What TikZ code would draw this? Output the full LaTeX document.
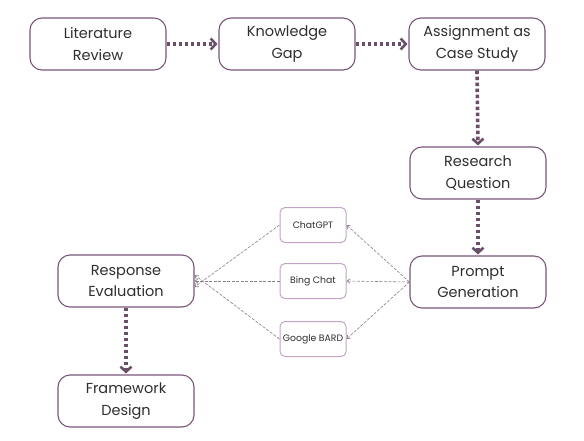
\documentclass[tikz,border=0pt]{standalone}
\usepackage{fontspec}
\setmainfont{Poppins}
\usetikzlibrary{arrows.meta}
\definecolor{boxc}{HTML}{7A5579}
\definecolor{arrc}{HTML}{6A4F68}
\definecolor{smallc}{HTML}{C3A3C6}
\definecolor{txt}{HTML}{2E2E2E}
\definecolor{thin}{HTML}{8A8088}
\begin{document}
\begin{tikzpicture}[x=1pt,y=-1pt,
  bigbox/.style={draw=boxc, line width=1.1pt, rounded corners=12pt, minimum width=136pt, minimum height=52pt, align=center, font=\fontsize{14.5}{21.5}\selectfont, text=txt, inner sep=0pt},
  smallbox/.style={draw=smallc, line width=1pt, rounded corners=5pt, minimum width=66pt, minimum height=35pt, align=center, font=\fontsize{9.3}{11}\selectfont, text=txt, inner sep=0pt},
  thick arrow/.style={draw=arrc, line width=3.6pt, dash pattern=on 3.6pt off 2.4pt, -{Straight Barb[length=5pt,width=11pt,line width=2.6pt]}, shorten >=1pt},
  thin arrow/.style={draw=thin, line width=0.6pt, dash pattern=on 3pt off 1.5pt, -{Straight Barb[length=3pt,width=4.5pt,line width=0.7pt]}}
]
\useasboundingbox (0,0) rectangle (584,440);
\node[bigbox] (lit) at (98,44) {Literature\\Review};
\node[bigbox] (gap) at (287,44) {Knowledge\\Gap};
\node[bigbox] (case) at (477,44) {Assignment as\\Case Study};
\node[bigbox] (rq) at (478,173) {Research\\Question};
\node[bigbox] (pg) at (478,282) {Prompt\\Generation};
\node[bigbox] (re) at (126,281) {Response\\Evaluation};
\node[bigbox] (fd) at (126,401) {Framework\\Design};
\node[smallbox] (gpt) at (313,225) {ChatGPT};
\node[smallbox] (bing) at (313,281) {Bing Chat};
\node[smallbox] (bard) at (313,339) {Google BARD};
\coordinate (pgl) at (pg.west);
\draw[thick arrow] (lit.east) -- (gap.west);
\draw[thick arrow] (gap.east) -- (case.west);
\draw[thick arrow] (case.south) -- (rq.north);
\draw[thick arrow] (rq.south) -- (pg.north);
\draw[thick arrow] (re.south) -- (fd.north);
\draw[thin arrow] (pgl) -- (gpt.east);
\draw[thin arrow] (pgl) -- (bing.east);
\draw[thin arrow] (pgl) -- (bard.east);
\draw[thin arrow] (gpt.west) -- ([yshift=-6pt]re.east);
\draw[thin arrow] (bing.west) -- (re.east);
\draw[thin arrow] (bard.west) -- ([yshift=6pt]re.east);
\end{tikzpicture}
\end{document}
